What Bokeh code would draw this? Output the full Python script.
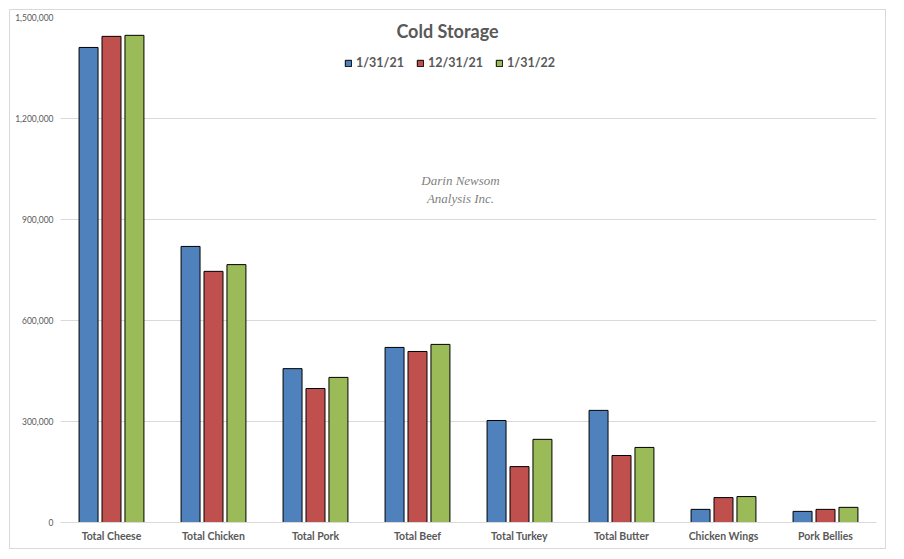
from bokeh.plotting import figure
from bokeh.models import (ColumnDataSource, FactorRange, Range1d, FixedTicker,
                          NumeralTickFormatter, Label, Legend, LegendItem)
from bokeh.transform import dodge
from bokeh.embed import file_html
from bokeh.resources import INLINE

categories = ["Total Cheese", "Total Chicken", "Total Pork", "Total Beef",
              "Total Turkey", "Total Butter", "Chicken Wings", "Pork Bellies"]
series_names = ["1/31/21", "12/31/21", "1/31/22"]
jan21 = [1411000, 820000, 457000, 520000, 303000, 333000, 39000, 33000]
dec21 = [1444000, 746000, 398000, 508000, 166000, 199000, 74000, 39000]
jan22 = [1447000, 766000, 431000, 529000, 247000, 223000, 77000, 45000]
y_ticks = [0, 300000, 600000, 900000, 1200000, 1500000]

colors = ["#4F81BD", "#C0504D", "#9BBB59"]
FONT = "Lato"
GRAY = "#595959"

src = ColumnDataSource(dict(cat=categories, s0=jan21, s1=dec21, s2=jan22))

p = figure(x_range=FactorRange(*categories, range_padding=0),
           y_range=Range1d(0, 1500000),
           width=877, height=540, output_backend="svg", toolbar_location=None,
           min_border_left=50, min_border_right=11, min_border_top=7,
           min_border_bottom=28, margin=(9, 0, 0, 9))
p.styles = {"border": "1px solid #D9D9D9"}
p.outline_line_color = None
p.background_fill_color = "white"
p.border_fill_color = "white"

renderers = []
for i, (key, off) in enumerate(zip(["s0", "s1", "s2"], [-0.225, 0.0, 0.225])):
    r = p.vbar(x=dodge("cat", off, range=p.x_range), top=key, width=0.186,
               source=src, fill_color=colors[i], line_color="black", line_width=1)
    renderers.append(r)

p.xgrid.grid_line_color = None
p.ygrid.grid_line_color = "#D9D9D9"
p.ygrid.ticker = FixedTicker(ticks=y_ticks)

p.yaxis.ticker = FixedTicker(ticks=y_ticks)
p.yaxis.formatter = NumeralTickFormatter(format="0,0")
p.yaxis.axis_line_color = None
p.yaxis.major_tick_line_color = None
p.yaxis.minor_tick_line_color = None
p.yaxis.major_tick_out = 0
p.yaxis.major_tick_in = 0
p.yaxis.minor_tick_out = 0
p.yaxis.major_label_standoff = 7
p.yaxis.major_label_text_font = FONT
p.yaxis.major_label_text_font_size = "8.5px"
p.yaxis.major_label_text_color = GRAY

p.xaxis.axis_line_color = "#D9D9D9"
p.xaxis.major_tick_line_color = None
p.xaxis.minor_tick_line_color = None
p.xaxis.major_tick_out = 0
p.xaxis.major_tick_in = 0
p.xaxis.minor_tick_out = 0
p.xaxis.major_label_standoff = 7
p.xaxis.major_label_text_font = FONT
p.xaxis.major_label_text_font_style = "bold"
p.xaxis.major_label_text_font_size = "10.5px"
p.xaxis.major_label_text_color = GRAY

p.add_layout(Label(x=-41, y=255, x_units="screen", y_units="screen",
                   text="1,000 pounds", angle=1.5708, text_align="center",
                   text_baseline="middle", text_font=FONT, text_font_size="9px",
                   text_color=GRAY))

p.add_layout(Label(x=387, y=492, x_units="screen", y_units="screen",
                   text="Cold Storage", text_align="center", text_baseline="middle",
                   text_font=FONT, text_font_style="bold", text_font_size="18px",
                   text_color=GRAY))

for txt, yy in [("Darin Newsom", 342), ("Analysis Inc.", 324)]:
    p.add_layout(Label(x=400, y=yy, x_units="screen", y_units="screen",
                       text=txt, text_align="center", text_baseline="middle",
                       text_font="Liberation Serif", text_font_style="italic",
                       text_font_size="13px", text_color="#7F7F7F"))

legend = Legend(items=[LegendItem(label=n, renderers=[r]) for n, r in zip(series_names, renderers)],
                orientation="horizontal", location=(284, 452),
                glyph_width=8, glyph_height=8, label_standoff=4, spacing=12,
                padding=0, margin=0, label_height=8,
                label_text_font=FONT, label_text_font_style="bold",
                label_text_font_size="12.5px", label_text_color=GRAY,
                border_line_color=None, background_fill_alpha=0)
p.add_layout(legend)

open("out.html", "w").write(file_html(p, INLINE))
